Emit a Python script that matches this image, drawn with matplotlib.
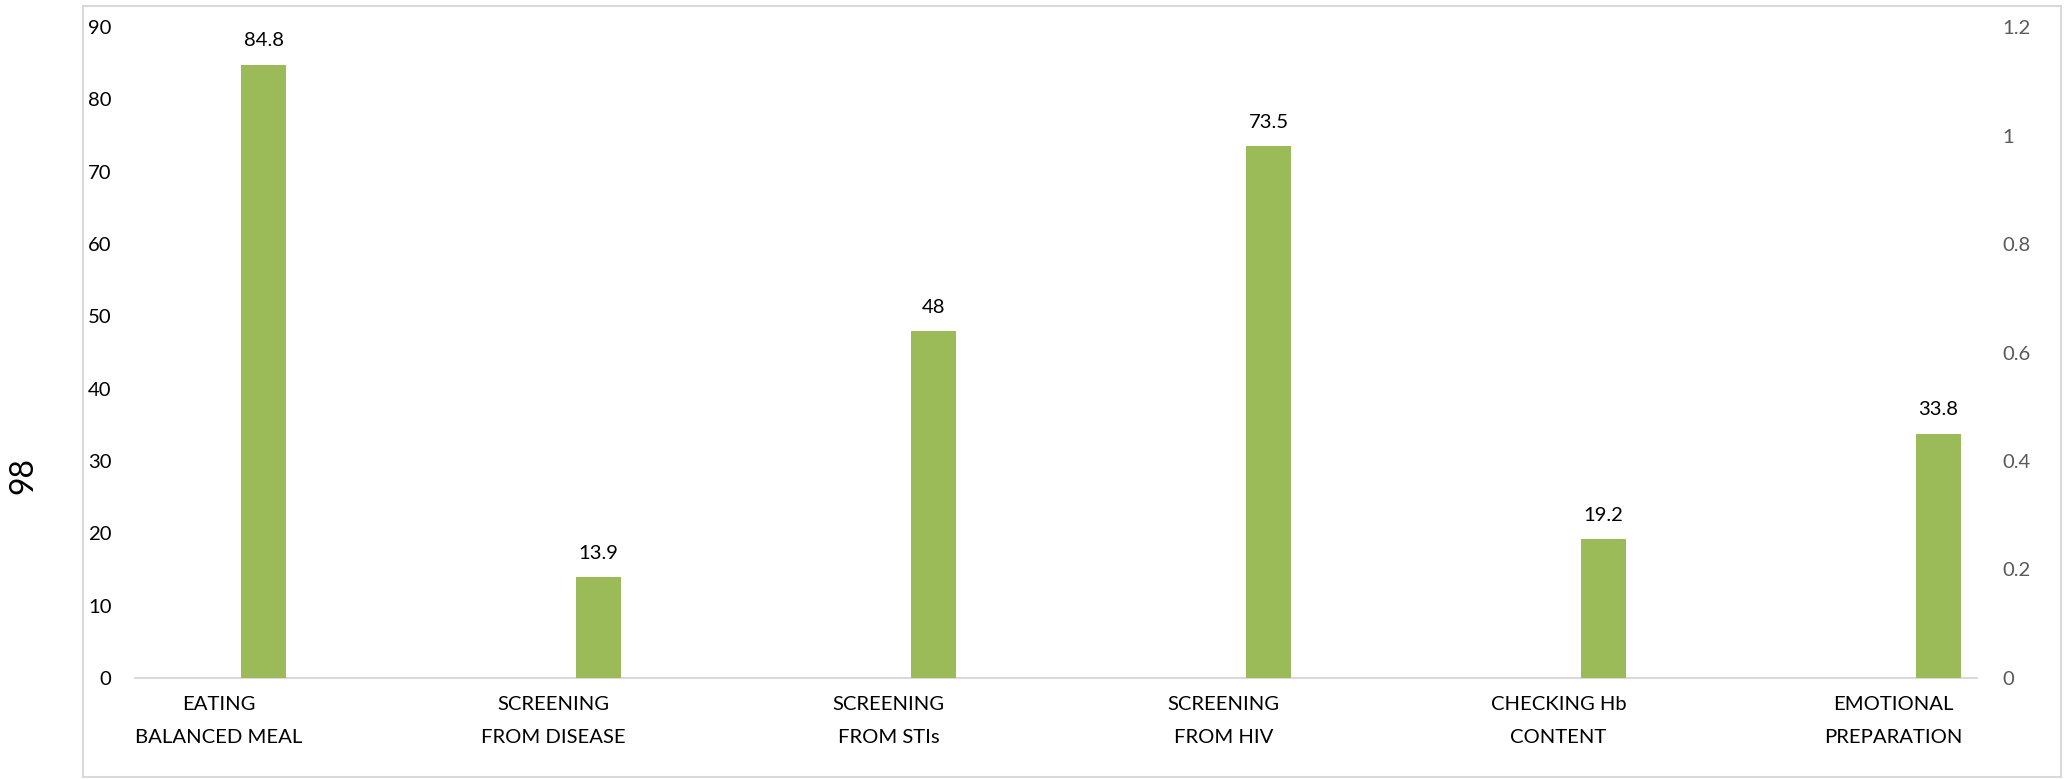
import matplotlib
matplotlib.use("Agg")
import matplotlib.pyplot as plt
from matplotlib.patches import Rectangle
import numpy as np

categories = ["EATING\nBALANCED MEAL", "SCREENING\nFROM DISEASE", "SCREENING\nFROM STIs",
              "SCREENING\nFROM HIV", "CHECKING Hb\nCONTENT", "EMOTIONAL\nPREPARATION"]
values = [84.8, 13.9, 48, 73.5, 19.2, 33.8]
value_labels = ["84.8", "13.9", "48", "73.5", "19.2", "33.8"]
left_ticks = [0, 10, 20, 30, 40, 50, 60, 70, 80, 90]
right_ticks = [0, 0.2, 0.4, 0.6, 0.8, 1.0, 1.2]
right_tick_labels = ["0", "0.2", "0.4", "0.6", "0.8", "1", "1.2"]
y_title = "98"

plt.rcParams['font.family'] = ['Lato', 'DejaVu Sans']

W, H = 2067, 779
fs = 14.6
fig = plt.figure(figsize=(W / 100, H / 100), dpi=100)

# outer chart border
fig.add_artist(Rectangle((83 / W, 1 - 777 / H), (2061 - 83) / W, (777 - 6) / H,
                         transform=fig.transFigure, fill=False,
                         edgecolor="#D9D9D9", linewidth=1.5))

ax = fig.add_axes([135 / W, 1 - 678 / H, (1977 - 135) / W, (678 - 27) / H])
x = np.arange(len(categories))
bar_w = 45 / 335
bars = ax.bar(x + bar_w, values, width=bar_w, color="#9BBB59", zorder=3)

ax.set_xlim(-0.25, len(categories) - 0.75)
ax.set_ylim(0, 90)
ax.set_yticks(left_ticks)
ax.set_yticklabels([str(t) for t in left_ticks])
ax.set_xticks(x)
ax.set_xticklabels(categories, linespacing=2.15)
ax.tick_params(axis="x", length=0, pad=13, labelsize=fs, colors="black")
ax.tick_params(axis="y", length=0, pad=17, labelsize=fs, colors="black")
for s in ["top", "right", "left"]:
    ax.spines[s].set_visible(False)
ax.spines["bottom"].set_color("#D9D9D9")
ax.spines["bottom"].set_linewidth(1.5)

for b, lab in zip(bars, value_labels):
    ax.annotate(lab, (b.get_x() + b.get_width() / 2, b.get_height()),
                xytext=(0, 11), textcoords="offset points",
                ha="center", va="bottom", fontsize=fs, color="black")

ax2 = ax.twinx()
ax2.set_ylim(0, 1.2)
ax2.set_yticks(right_ticks)
ax2.set_yticklabels(right_tick_labels)
ax2.tick_params(axis="y", length=0, pad=18, labelsize=fs, colors="#595959")
for s in ["top", "right", "left", "bottom"]:
    ax2.spines[s].set_visible(False)

fig.text(23 / W, 1 - 475 / H, y_title, rotation=90, ha="center", va="center",
         fontsize=23, color="black")

fig.savefig("out.png", dpi=100)
